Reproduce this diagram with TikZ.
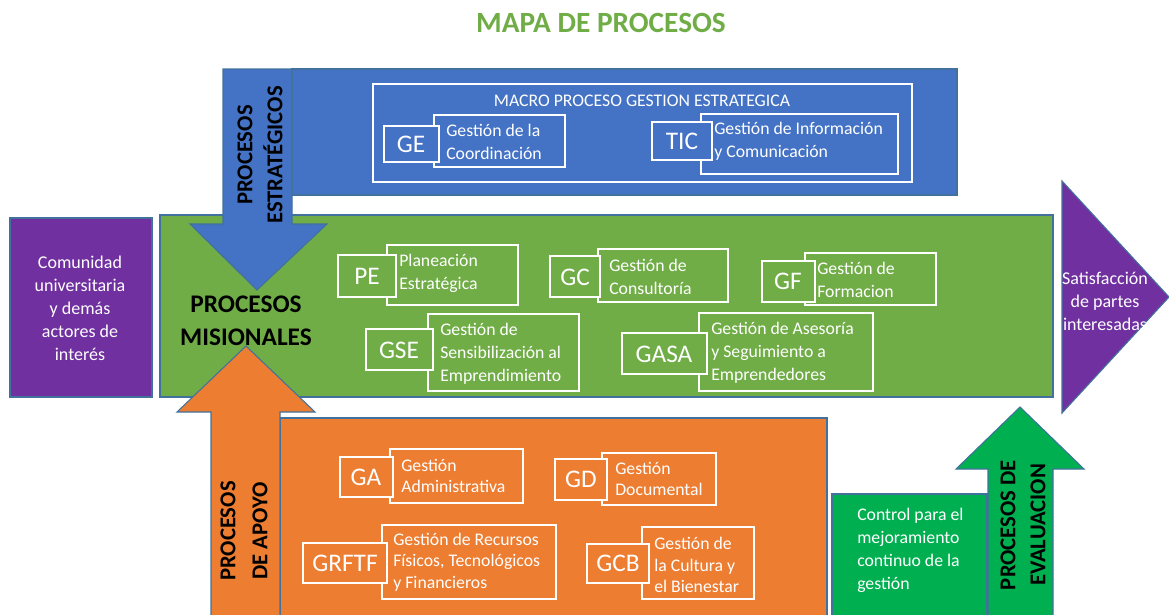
\documentclass[tikz,border=0pt]{standalone}
\usepackage{fontspec}
\setmainfont{Carlito}
\definecolor{estblue}{HTML}{4472C4}
\definecolor{misgreen}{HTML}{70AD47}
\definecolor{apoorange}{HTML}{ED7D31}
\definecolor{evalgreen}{HTML}{00B050}
\definecolor{actpurple}{HTML}{7030A0}
\definecolor{edgeblue}{HTML}{41719C}
\tikzset{panel/.style={draw=edgeblue, line width=0.8pt},
  frame/.style={draw=white, line width=1pt},
  abbr/.style={text=white, inner sep=0, font=\fontsize{19}{22}\selectfont},
  desc/.style={text=white, inner sep=0, anchor=west, align=left, font=\fontsize{13.3}{17.2}\selectfont},
  sidetext/.style={text=white, inner sep=0, align=center, font=\fontsize{13.5}{17.2}\selectfont},
  grouplabel/.style={text=black, inner sep=0, align=center, font=\bfseries\fontsize{17}{22.5}\selectfont}}

\begin{document}
\begin{tikzpicture}[x=0.75pt,y=-0.75pt]
    \useasboundingbox (0,0) rectangle (1169,614);
    \node [font=\bfseries\fontsize{22}{26}\selectfont, text=misgreen] (title) at (601,23) {MAPA DE PROCESOS};

    % procesos estrategicos
    \draw [panel, fill=estblue] (292,69) rectangle (957,195);
    \draw [frame] (373,84) rectangle (912,182);
    \node [text=white, inner sep=0, font=\fontsize{13.3}{15}\selectfont] (macro) at (642,101) {MACRO PROCESO GESTION ESTRATEGICA};
    \draw [frame] (434,115) rectangle (565,167);
    \draw [frame, fill=estblue] (384,126) rectangle (439,162);
    \node [abbr] (ge) at (411,144) {GE};
    \node [desc] (geText) at (446,142) {Gestión de la\\Coordinación};
    \draw [frame] (701,114) rectangle (898,174);
    \draw [frame, fill=estblue] (652,122) rectangle (712,160);
    \node [abbr] (tic) at (682,141) {TIC};
    \node [desc] (ticText) at (714,141) {Gestión de Información\\y Comunicación};

    % actores
    \draw [panel, fill=actpurple] (10,218) rectangle (152,397);
    \node [sidetext] (actores) at (80,308) {Comunidad\\universitaria\\y demás\\actores de\\interés};
    \draw [panel, fill=actpurple] (1062,181) -- (1169,297) -- (1062,413) -- cycle;
    \node [sidetext] (satisfaccion) at (1105,301) {Satisfacción\\de partes\\interesadas};

    % procesos misionales
    \draw [panel, fill=misgreen] (160,215) rectangle (1053,397);
    \draw [panel, fill=estblue] (223,69) -- (292,69) -- (292,224) -- (327,224) -- (257,290) -- (190,224) -- (223,224) -- cycle;
    \node [grouplabel, rotate=90] (estLabel) at (260,155) {PROCESOS\\ESTRATÉGICOS};
    \node [grouplabel, font=\bfseries\fontsize{19}{25}\selectfont] (misLabel) at (246,321) {PROCESOS\\MISIONALES};

    \draw [frame] (387,245) rectangle (518,305);
    \draw [frame, fill=misgreen] (338,255) rectangle (396,297);
    \node [abbr] (pe) at (367,276) {PE};
    \node [desc] (peText) at (399,273) {Planeación\\Estratégica};
    \draw [frame] (598,249) rectangle (728,302);
    \draw [frame, fill=misgreen] (550,256) rectangle (600,297);
    \node [abbr] (gc) at (575,277) {GC};
    \node [desc] (gcText) at (609,277) {Gestión de\\Consultoría};
    \draw [frame] (805,253) rectangle (936,305);
    \draw [frame, fill=misgreen] (762,261) rectangle (815,302);
    \node [abbr] (gf) at (788,281) {GF};
    \node [desc] (gfText) at (817,280) {Gestión de\\Formacion};
    \draw [frame] (428,314) rectangle (579,391);
    \draw [frame, fill=misgreen] (366,329) rectangle (433,370);
    \node [abbr] (gse) at (399,350) {GSE};
    \node [desc] (gseText) at (440,354) {Gestión de\\Sensibilización al\\Emprendimiento};
    \draw [frame] (699,313) rectangle (873,391);
    \draw [frame, fill=misgreen] (622,333) rectangle (707,374);
    \node [abbr] (gasa) at (664,354) {GASA};
    \node [desc] (gasaText) at (711,353) {Gestión de Asesoría\\y Seguimiento a\\Emprendedores};

    % procesos de apoyo
    \draw [panel, fill=apoorange] (280,418) rectangle (827,616);
    \draw [panel, fill=apoorange] (211,616) -- (211,412) -- (177,412) -- (246,346) -- (315,412) -- (280,412) -- (280,616);
    \node [grouplabel, font=\bfseries\fontsize{17}{24}\selectfont, rotate=90] (apoLabel) at (244,531) {PROCESOS\\DE APOYO};

    \draw [frame] (390,449) rectangle (523,503);
    \draw [frame, fill=apoorange] (340,457) rectangle (393,497);
    \node [abbr] (ga) at (366,477) {GA};
    \node [desc, font=\fontsize{13.3}{16}\selectfont] (gaText) at (401,476) {Gestión\\Administrativa};
    \draw [frame] (602,453) rectangle (716,505);
    \draw [frame, fill=apoorange] (555,459) rectangle (607,500);
    \node [abbr] (gd) at (581,479) {GD};
    \node [desc, font=\fontsize{13.3}{16}\selectfont] (gdText) at (615,479) {Gestión\\Documental};
    \draw [frame] (382,525) rectangle (556,599);
    \draw [frame, fill=apoorange] (303,543) rectangle (387,583);
    \node [abbr] (grftf) at (345,563) {GRFTF};
    \node [desc, font=\fontsize{13.3}{16}\selectfont] (grftfText) at (393,562) {Gestión de Recursos\\Físicos, Tecnológicos\\y Financieros};
    \draw [frame] (642,527) rectangle (754,599);
    \draw [frame, fill=apoorange] (587,544) rectangle (649,583);
    \node [abbr] (gcb) at (618,563) {GCB};
    \node [desc, font=\fontsize{13.3}{16}\selectfont] (gcbText) at (654,565) {Gestión de\\la Cultura y\\el Bienestar};

    % procesos de evaluacion
    \draw [panel, fill=evalgreen] (832,494) rectangle (987,616);
    \node [desc] (control) at (857,550) {Control para el\\mejoramiento\\continuo de la\\gestión};
    \draw [panel, fill=evalgreen] (988,616) -- (988,469) -- (956,469) -- (1020,407) -- (1084,469) -- (1053,469) -- (1053,616);
    \node [grouplabel, rotate=90] (evalLabel) at (1023,525) {PROCESOS DE\\EVALUACION};
\end{tikzpicture}
\end{document}
